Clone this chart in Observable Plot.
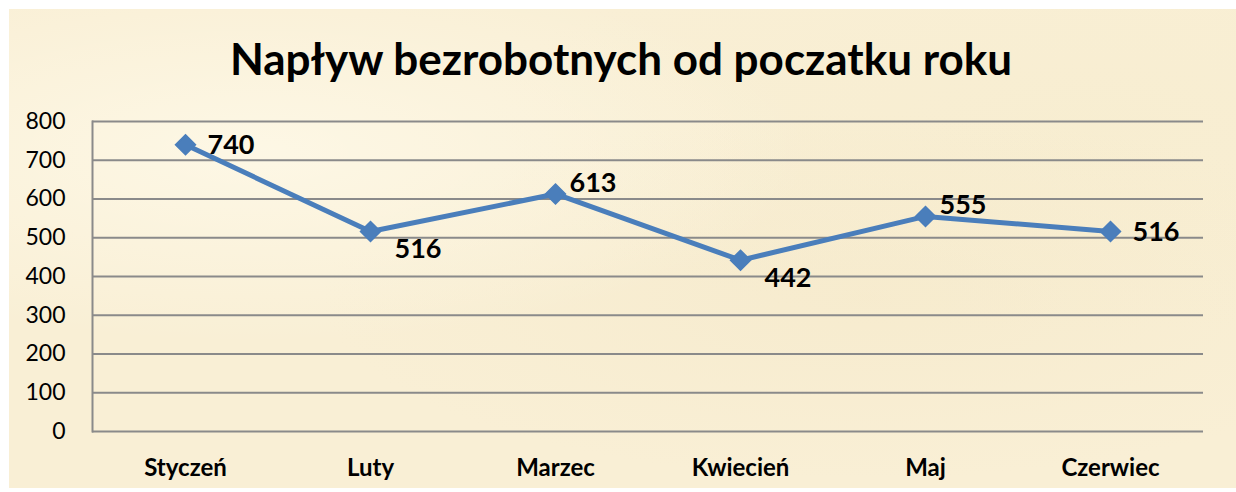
<!DOCTYPE html>
<html>
<head>
<meta charset="utf-8">
<script src="https://cdn.jsdelivr.net/npm/d3@7"></script>
<script src="https://cdn.jsdelivr.net/npm/@observablehq/plot@0.6"></script>
<style>
  html, body { margin: 0; padding: 0; background: #ffffff; }
  #wrap {
    position: relative; width: 1236px; height: 492px; overflow: hidden;
    background: #ffffff;
  }
  #paper {
    position: absolute; left: 9px; top: 9px; width: 1227px; height: 479px;
    background:
      radial-gradient(ellipse at 20% 30%, rgba(255,251,236,0.7), rgba(255,251,236,0) 40%),
      radial-gradient(ellipse at 70% 60%, rgba(243,230,196,0.4), rgba(243,230,196,0) 45%),
      radial-gradient(ellipse at 88% 25%, rgba(246,236,205,0.5), rgba(246,236,205,0) 40%),
      #f9efd5;
  }
  #title {
    position: absolute; left: 0; top: 32px; width: 1242px; text-align: center;
    font: bold 44px Lato, "Open Sans", sans-serif; color: #000;
  }
  #chart { position: absolute; left: 0; top: 100px; }
</style>
</head>
<body>
<div id="wrap">
  <div id="paper"></div>
  <div id="title">Napływ bezrobotnych od poczatku roku</div>
  <div id="chart"></div>
</div>
<script>
const months = ["Styczeń", "Luty", "Marzec", "Kwiecień", "Maj", "Czerwiec"];
const values = [740, 516, 613, 442, 555, 516];
const labelAnchors = ["right", "below", "above", "below", "above", "right"];
const yTicks = [0, 100, 200, 300, 400, 500, 600, 700, 800];

const offsets = {
  right: {dx: 22, dy: 1},
  below: {dx: 24, dy: 18},
  above: {dx: 14, dy: -11}
};

const data = months.map((m, i) => ({month: m, value: values[i], anchor: labelAnchors[i]}));

const labelMarks = Object.keys(offsets).map(k =>
  Plot.text(data.filter(d => d.anchor === k), {
    x: "month", y: "value", text: d => String(d.value),
    textAnchor: "start", dx: offsets[k].dx, dy: offsets[k].dy,
    fontSize: 27, fontWeight: "bold", fill: "#000"
  })
);

const chart = Plot.plot({
  width: 1236,
  height: 392,
  marginLeft: 92,
  marginRight: 33,
  marginTop: 21,
  marginBottom: 61,
  style: {background: "transparent", fontFamily: "Lato, 'Open Sans', sans-serif", color: "#000"},
  x: {type: "point", domain: months, padding: 0.5, label: null},
  y: {domain: [0, 800], label: null},
  marks: [
    Plot.gridY(yTicks, {stroke: "#8a8a8a", strokeOpacity: 1, strokeWidth: 2}),
    Plot.frame({anchor: "left", stroke: "#8a8a8a", strokeWidth: 2}),
    Plot.axisY(yTicks, {tickSize: 0, tickPadding: 27, fontSize: 23, label: null, fill: "#000"}),
    Plot.axisX({tickSize: 0, tickPadding: 27, fontSize: 24, fontWeight: "bold", label: null, fill: "#000"}),
    Plot.line(data, {x: "month", y: "value", stroke: "#4a7ebb", strokeWidth: 5}),
    Plot.dot(data, {x: "month", y: "value", symbol: "diamond2", r: 9, fill: "#4a7ebb", stroke: "#4a7ebb"}),
    ...labelMarks
  ]
});
document.getElementById("chart").appendChild(chart);
</script>
</body>
</html>
